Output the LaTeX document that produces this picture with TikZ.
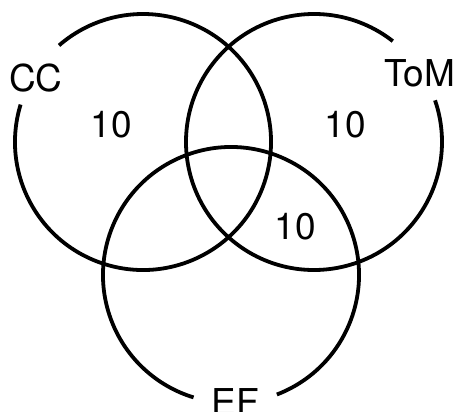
\documentclass[tikz,border=0pt]{standalone}
\usepackage{fontspec}
\setmainfont{TeX Gyre Heros}
\usepackage{tikz}
\usetikzlibrary{calc}

\begin{document}
\begin{tikzpicture}[x=1pt,y=-1pt,inner sep=0pt,line width=3.8pt,
				set/.style={draw=black},
				setlabel/.style={anchor=base,font=\fontsize{37}{44}\selectfont},
				count/.style={setlabel}]
				
				\useasboundingbox (0,0) rectangle (458,412);
				
				\coordinate (cc) at (143,142);
				\coordinate (tom) at (314,142);
				\coordinate (ef) at (231,275);
				
				% circles, each with a gap for its label
				\draw[set] (cc) ++(-163:128) arc[start angle=-163,delta angle=-328,radius=128];
				\draw[set] (tom) ++(-52:128) arc[start angle=-52,delta angle=-327,radius=128];
				\draw[set] (ef) ++(-291:128) arc[start angle=-291,delta angle=-322,radius=128];
				
				\node[setlabel] (cclabel) at (36,92) {CC};
				\node[setlabel] (tomlabel) at (420,87) {ToM};
				\node[setlabel] (eflabel) at (235,415) {EF};
				
				\node[count] (cconly) at (111,137) {10};
				\node[count] (tomonly) at (345,137) {10};
				\node[count] (tomef) at (295,239) {10};
				
			\end{tikzpicture}
\end{document}
